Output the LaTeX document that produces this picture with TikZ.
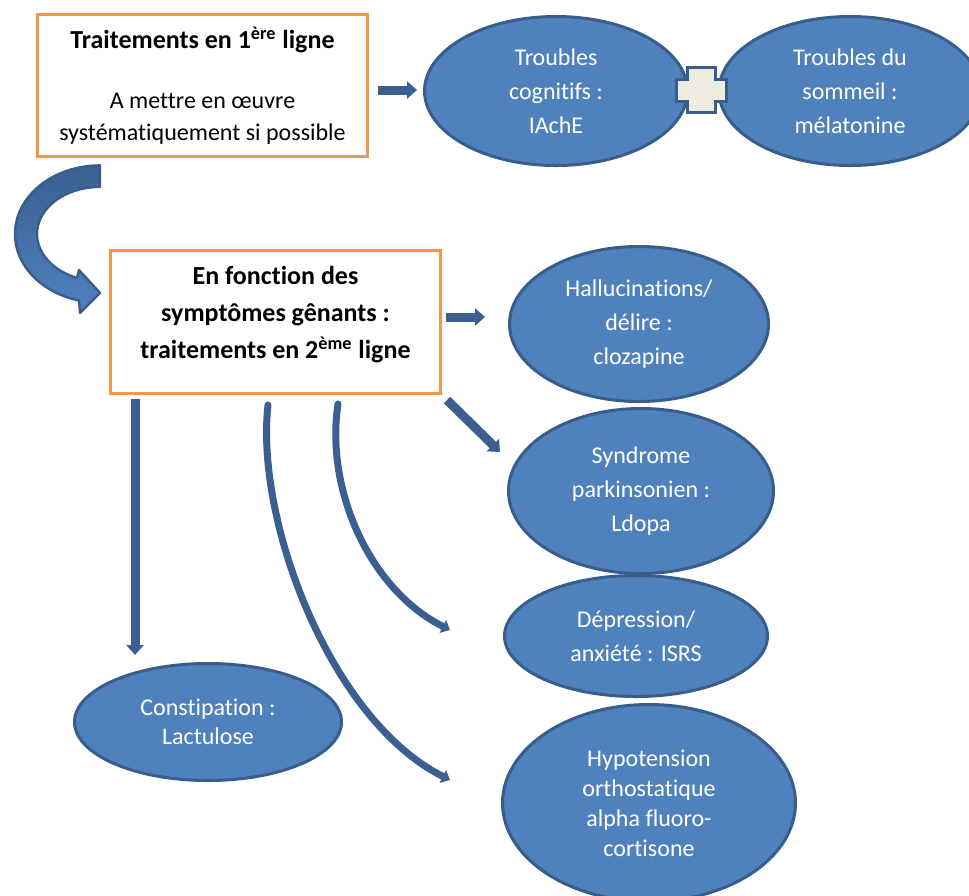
\documentclass[tikz,border=0pt]{standalone}
\usepackage{fontspec}
\setmainfont{Carlito}[Ligatures={NoCommon}]
\definecolor{boxorange}{RGB}{247,150,70}
\definecolor{ovalblue}{RGB}{79,129,189}
\definecolor{ovaledge}{RGB}{56,93,138}
\definecolor{arrowblue}{RGB}{59,95,145}
\definecolor{pluscream}{RGB}{238,236,225}
\usepackage{tikz}
\usetikzlibrary{arrows.meta,shapes.geometric,calc}

\begin{document}
\begin{tikzpicture}[x=0.5pt,y=0.5pt,
      linebox/.style={draw=boxorange,fill=white,line width=1.5pt,
                      minimum width=165pt,minimum height=71pt,inner sep=0pt,align=center},
      treat/.style={ellipse,draw=ovaledge,fill=ovalblue,line width=1.5pt,inner sep=0pt,
                    text=white,align=center,font=\fontsize{12}{17}\selectfont},
      blockarr/.style={draw=arrowblue,line width=4.5pt,-{Triangle[length=5pt,width=8.5pt]}},
      curvearr/.style={draw=arrowblue,line width=3.5pt,line cap=round,-{Triangle[length=4pt,width=7pt]}}]
      \path[fill=white,use as bounding box] (0,0) rectangle (969,-895);
      % first line box and its ovals
      \node[linebox,font=\fontsize{12}{16}\selectfont] (first) at (202.5,-85.5)
        {{\bfseries\fontsize{13}{16}\selectfont Traitements en 1\textsuperscript{ère} ligne}\\[14pt]
         A mettre en œuvre\\systématiquement si possible};
      \node[treat,minimum width=131.5pt,minimum height=74.5pt] (cogn) at (556,-91) {Troubles\\cognitifs :\\IAchE};
      \node[treat,minimum width=131pt,minimum height=74.5pt] (sleep) at (850,-91) {Troubles du\\sommeil :\\mélatonine};
      \draw[ovaledge,fill=pluscream,line width=1.5pt]
        (687.5,-79.5) -- (687.5,-67.5) -- (715.5,-67.5) -- (715.5,-79.5) -- (726.5,-79.5) -- (726.5,-101.5)
        -- (715.5,-101.5) -- (715.5,-112.5) -- (687.5,-112.5) -- (687.5,-101.5) -- (676.5,-101.5) -- (676.5,-79.5) -- cycle;
      \draw[blockarr] ($(first.east)+(9,-4.5)$) -- ($(cogn.west)+(-6,1)$);
      % second line box
      \node[linebox,minimum height=71.5pt,text depth=10pt,font=\bfseries\fontsize{13}{18.5}\selectfont] (second) at (275.5,-322)
        {En fonction des\\symptômes gênants :\\traitements en 2\textsuperscript{ème} ligne};
      \coordinate (bend) at ($(first.south west)+(64,-76)$);
      \path[draw=ovaledge,line width=1.2pt,line join=round,top color=arrowblue,bottom color=ovalblue]
        ($(bend)+(90:85 and 68.6)$) arc[start angle=90,end angle=255.7,x radius=85,y radius=68.6]
        -- ($(bend)+(-20,-79)$) -- ($(bend)+(0,-59)$) -- ($(bend)+(-21,-36)$)
        -- ($(bend)+(248.6:63 and 47.1)$) arc[start angle=248.6,end angle=90,x radius=63,y radius=47.1] -- cycle;
      % symptom ovals
      \node[treat,minimum width=129.5pt,minimum height=77.5pt] (hallu) at (639,-324) {Hallucinations/\\délire :\\clozapine};
      \node[treat,minimum width=132.5pt,minimum height=82.5pt] (parkin) at (641,-491) {Syndrome\\parkinsonien :\\Ldopa};
      \node[treat,minimum width=131.5pt,minimum height=60.5pt] (depress) at (636,-636) {Dépression/\\anxiété : ISRS};
      \node[treat,minimum width=146.5pt,minimum height=98.5pt,font=\fontsize{12}{15}\selectfont] (hypo) at (649,-803)
        {Hypotension\\orthostatique\\alpha fluoro-\\cortisone};
      \node[treat,minimum width=133.5pt,minimum height=58.5pt,font=\fontsize{12}{14.5}\selectfont] (constip) at (208,-722)
        {Constipation :\\Lactulose};
      \draw[blockarr] ($(second.east)+(4,5)$) -- ($(hallu.west)+(-23,7)$);
      \draw[blockarr] ($(second.south east)+(5,-5)$) -- ($(parkin.west)+(-7,39)$);
      \draw[blockarr] ($(second.south west)+(26,-4)$) -- ($(constip.north)+(-73,7)$);
      \draw[curvearr] ($(second.south)+(-7.5,-10)$) .. controls +(-13,-115) and +(-120,60) .. ($(hypo.west)+(-51,23)$);
      \draw[curvearr] ($(second.south)+(62.5,-9)$) .. controls +(-13,-86) and +(-80,40) .. ($(depress.west)+(-53,6)$);
    \end{tikzpicture}
\end{document}
